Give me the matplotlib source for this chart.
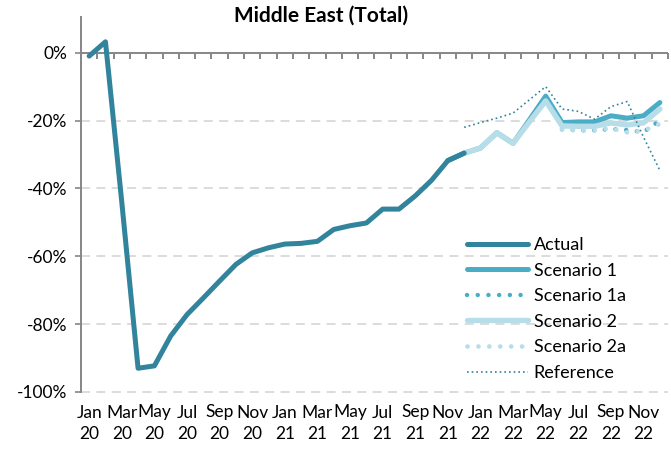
import numpy as np
import matplotlib.pyplot as plt
from matplotlib.markers import TICKDOWN

plt.rcParams['font.family'] = ['Lato', 'DejaVu Sans']

# monthly categories, Jan 2020 .. Dec 2022
months = ['Jan', 'Feb', 'Mar', 'Apr', 'May', 'Jun',
          'Jul', 'Aug', 'Sep', 'Oct', 'Nov', 'Dec']
years = ['20', '21', '22']
categories = [m + '\n' + y for y in years for m in months]

# actual change vs 2019 (%), Jan 2020 .. Dec 2021
actual = [-1.0, 3.2, -44.0, -93.0, -92.3, -83.5, -77.2, -72.3, -67.3, -62.4,
          -59.0, -57.5, -56.4, -56.2, -55.6, -52.1, -51.0, -50.2, -46.1, -46.1,
          -42.2, -37.6, -31.8, -29.6]

# scenarios start from Dec 2021
scen_start = 23
scenario1 = [-29.6, -28.1, -23.6, -26.7, -19.8, -12.8, -20.6, -20.4, -20.4,
             -18.6, -19.3, -18.6, -14.7]
scenario2 = [-29.6, -28.1, -23.6, -26.7, -20.4, -14.2, -21.6, -21.7, -21.7,
             -20.7, -21.3, -20.7, -16.6]
reference = [-22.0, -20.6, -19.3, -17.8, -13.9, -10.0, -16.6, -17.3, -19.6,
             -15.9, -14.4, -24.9, -34.7]

# a-variants start from Jun 2022
alt_start = 29
scenario1a = [-22.6, -22.9, -22.9, -22.5, -22.8, -23.4, -20.0]
scenario2a = [-22.6, -22.9, -22.9, -22.3, -23.5, -23.0, -21.0]

c_actual = '#31849B'
c_s1 = '#4BACC6'
c_s2 = '#B7DEE8'
c_ref = '#31849B'
c_axis = '#868686'

fig = plt.figure(figsize=(6.71, 4.5), dpi=100)
ax = fig.add_axes([81 / 671, 58 / 450, 587 / 671, 375.3 / 450])

x_act = np.arange(len(actual))
x_scen = np.arange(scen_start, scen_start + len(scenario1))
x_alt = np.arange(alt_start, alt_start + len(scenario1a))

thick = dict(solid_joinstyle='round', solid_capstyle='round')
dots = dict(dash_capstyle='round')

ax.plot(x_act, actual, color=c_actual, lw=3.6, label='Actual', zorder=3, **thick)
ax.plot(x_scen, scenario1, color=c_s1, lw=3.6, label='Scenario 1', zorder=3, **thick)
ax.plot(x_alt, scenario1a, color=c_s1, lw=3.2, ls=(0, (0.01, 2.4)),
        label='Scenario 1a', zorder=3, **dots)
ax.plot(x_scen, scenario2, color=c_s2, lw=3.9, label='Scenario 2', zorder=3, **thick)
ax.plot(x_alt, scenario2a, color=c_s2, lw=3.4, ls=(0, (0.01, 2.3)),
        label='Scenario 2a', zorder=3, **dots)
ax.plot(x_scen, reference, color=c_ref, lw=1.2, ls=(0, (1, 1.8)),
        label='Reference', zorder=3)

# redraw the last actual segment joint on top of the scenarios
ax.plot(x_act[-2:], actual[-2:], color=c_actual, lw=3.6, zorder=3, **thick)

ax.set_xlim(-0.5, len(categories) - 0.5)
ax.set_ylim(-100, 10.6)

yt = np.arange(-100, 1, 20)
ax.set_yticks(yt)
ax.set_yticklabels([f'{v}%' for v in yt])
for v in yt[:-1]:
    ax.axhline(v, color='#D9D9D9', lw=1.3, ls=(0, (5, 3.5)), zorder=1,
               clip_on=False)

# horizontal axis line at 0% with tick marks between categories
ax.axhline(0, color=c_axis, lw=1.4, zorder=2)
bounds = np.arange(-0.5, len(categories), 1)
ax.plot(bounds, np.zeros_like(bounds), ls='none', marker=TICKDOWN,
        markersize=4.5, markeredgewidth=1.4, color=c_axis, zorder=2.5,
        clip_on=False)

# category labels every other month along the bottom
ax.set_xticks(np.arange(0, len(categories), 2))
ax.set_xticklabels(categories[::2], linespacing=1.45)
ax.tick_params(axis='x', length=0, pad=9, labelsize=12.5)
ax.tick_params(axis='y', length=4, width=1.2, color=c_axis, pad=6,
               labelsize=12.5, direction='out')

for s in ['top', 'right', 'bottom']:
    ax.spines[s].set_visible(False)
ax.spines['left'].set_color(c_axis)
ax.spines['left'].set_linewidth(1.4)

fig.text(320.6 / 671, 1 - 16 / 450, 'Middle East (Total)', ha='center',
         va='center', fontsize=15, fontweight='bold')

handles, labels = ax.get_legend_handles_labels()
ax.legend(handles[:6], labels[:6], loc='upper left',
          bbox_to_anchor=((467 - 81) / 587, (392 - 237) / 375.3),
          frameon=False, fontsize=13, handlelength=3.4, handletextpad=0.3,
          labelspacing=0.53, borderpad=0, borderaxespad=0)

fig.savefig('out.png', dpi=100)
